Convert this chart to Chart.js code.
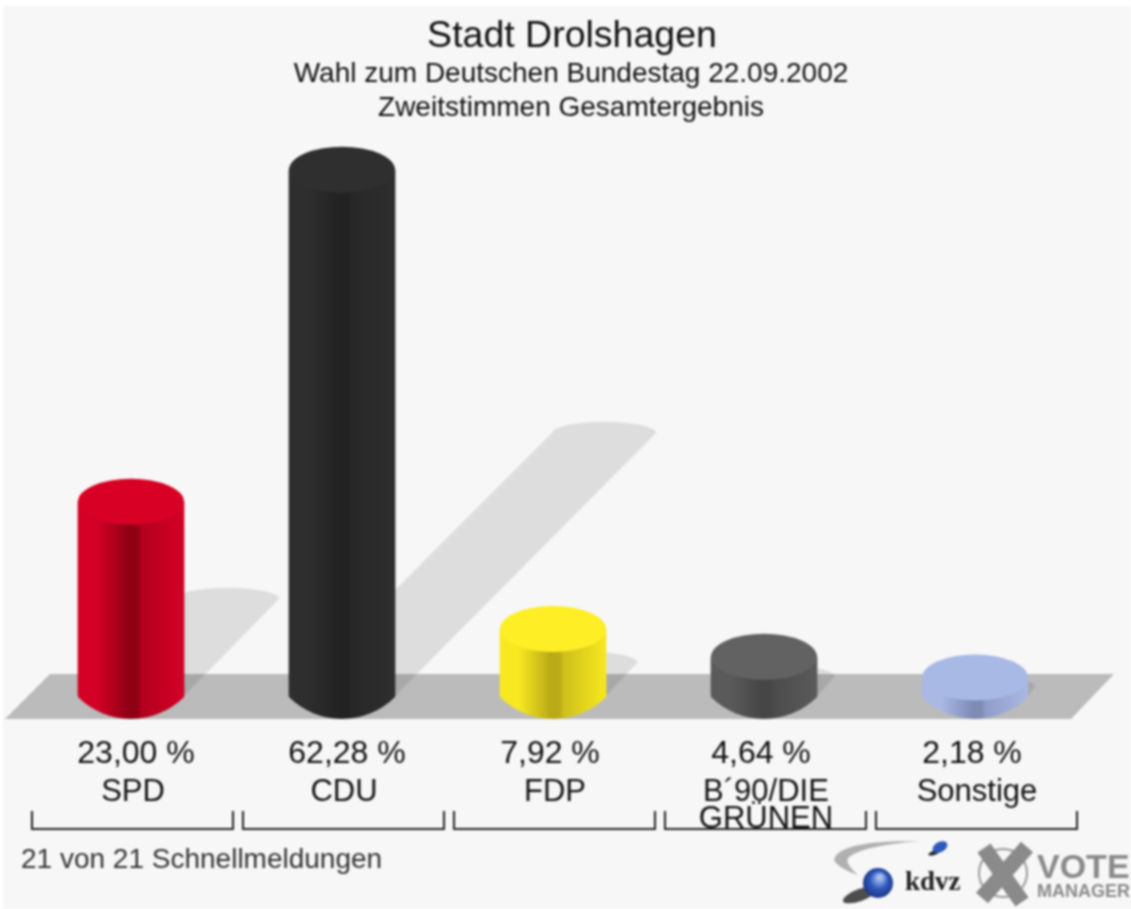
<!DOCTYPE html>
<html>
<head>
<meta charset="utf-8">
<title>Stadt Drolshagen</title>
<script src="https://cdn.jsdelivr.net/npm/chart.js@4"></script>
<style>
    html, body { margin: 0; padding: 0; background: #fff; }
    #wrap { width: 1131px; height: 909px; }
    canvas { display: block; filter: blur(0.8px); }
</style>
</head>
<body>
<div id="wrap"><canvas id="myChart" width="1131" height="909"></canvas></div>
<script>
const parties = [['SPD'], ['CDU'], ['FDP'], ['B´90/DIE', 'GRÜNEN'], ['Sonstige']];
const percent = [23.00, 62.28, 7.92, 4.64, 2.18];
const percentLabels = ['23,00 %', '62,28 %', '7,92 %', '4,64 %', '2,18 %'];

const titleText = 'Stadt Drolshagen';
const subtitleLines = ['Wahl zum Deutschen Bundestag 22.09.2002', 'Zweitstimmen Gesamtergebnis'];
const footerText = '21 von 21 Schnellmeldungen';

// edge, dark middle, just right of the middle, cap
const barColors = [
    ['#d40026', '#8e0014', '#b3001e', '#d80025'],
    ['#2e2e2e', '#222222', '#272727', '#2f2f2f'],
    ['#f7e820', '#b9aa17', '#cfc01c', '#fdee26'],
    ['#5a5a5a', '#464646', '#4c4c4c', '#626262'],
    ['#aab9e4', '#7d8bb5', '#8f9dc8', '#a9b9e5']
];

const FONT = '"Liberation Sans", Arial, sans-serif';
const RX = 53;
const RY = 23;
const RIM_R = 74.8;

function barGradient(context) {
    const chart = context.chart;
    const scale = chart.scales.x;
    if (!scale || context.dataIndex === undefined) return 'transparent';
    const cx = scale.getPixelForValue(context.dataIndex);
    if (!isFinite(cx)) return 'transparent';
    return bodyGradient(chart.ctx, cx, barColors[context.dataIndex]);
}

function bodyGradient(ctx, cx, c) {
    const g = ctx.createLinearGradient(cx - RX, 0, cx + RX, 0);
    g.addColorStop(0, c[0]);
    g.addColorStop(0.18, c[0]);
    g.addColorStop(0.48, c[1]);
    g.addColorStop(0.56, c[1]);
    g.addColorStop(0.6, c[2]);
    g.addColorStop(1, c[0]);
    return g;
}

const cylinderPlugin = {
    id: 'cylinders',
    beforeDatasetsDraw(chart) {
        const ctx = chart.ctx;
        const base = chart.scales.y.getPixelForValue(0);
        const meta = chart.getDatasetMeta(0);

        // floor
        ctx.fillStyle = '#bbbbbb';
        ctx.beginPath();
        ctx.moveTo(5, base + RY);
        ctx.lineTo(50, base - 22);
        ctx.lineTo(1114, base - 22);
        ctx.lineTo(1071, base + RY);
        ctx.closePath();
        ctx.fill();

        // shadows fall up and to the right, half as long as the bar
        meta.data.forEach(bar => {
            const h = (base - bar.y) / 2;
            ctx.fillStyle = 'rgba(0,0,0,0.1)';
            ctx.beginPath();
            ctx.ellipse(bar.x + h - 1, base - h, RX - 1, 11, 0, Math.PI, 0);
            ctx.lineTo(bar.x + RX, base);
            ctx.lineTo(bar.x - RX, base);
            ctx.closePath();
            ctx.fill();
        });

        // lower rim of each cylinder, a flat arc and not a full half ellipse
        // starts 2px up so no seam shows under the bar
        meta.data.forEach((bar, i) => {
            const a = Math.asin(RX / RIM_R);
            ctx.fillStyle = bodyGradient(ctx, bar.x, barColors[i]);
            ctx.beginPath();
            ctx.arc(bar.x, base + RY - RIM_R, RIM_R, Math.PI / 2 + a, Math.PI / 2 - a, true);
            ctx.lineTo(bar.x + RX, base - 2);
            ctx.lineTo(bar.x - RX, base - 2);
            ctx.closePath();
            ctx.fill();
        });
    },
    afterDatasetsDraw(chart) {
        const ctx = chart.ctx;
        chart.getDatasetMeta(0).data.forEach((bar, i) => {
            ctx.fillStyle = barColors[i][3];
            ctx.beginPath();
            ctx.ellipse(bar.x, bar.y, RX, RY, 0, 0, Math.PI * 2);
            ctx.fill();
        });
    }
};

const textPlugin = {
    id: 'texts',
    beforeDraw(chart) {
        const ctx = chart.ctx;
        ctx.fillStyle = '#f7f7f7';
        ctx.fillRect(3, 6, 1128, 903);
    },
    afterDraw(chart) {
        const ctx = chart.ctx;
        const x = chart.scales.x;
        ctx.save();
        ctx.fillStyle = '#111';
        ctx.textBaseline = 'middle';
        ctx.textAlign = 'center';

        ctx.font = '37.5px ' + FONT;
        ctx.fillText(titleText, 572, 37);
        ctx.font = '28px ' + FONT;
        ctx.fillText(subtitleLines[0], 571, 74);
        ctx.fillText(subtitleLines[1], 571, 108);

        // two digit values sit a bit right of the bar, one digit values a bit left
        ctx.font = '32px ' + FONT;
        percentLabels.forEach((label, i) => {
            const nudge = percent[i] >= 10 ? 5 : -3;
            ctx.fillText(label, x.getPixelForValue(i) + nudge, 754);
        });

        // brackets under the categories
        ctx.strokeStyle = '#222';
        ctx.lineWidth = 2;
        percent.forEach((v, i) => {
            const cx = x.getPixelForValue(i);
            ctx.beginPath();
            ctx.moveTo(cx - 99, 811);
            ctx.lineTo(cx - 99, 829);
            ctx.lineTo(cx + 102, 829);
            ctx.lineTo(cx + 102, 811);
            ctx.stroke();
        });

        ctx.textAlign = 'left';
        ctx.font = '28px ' + FONT;
        ctx.fillStyle = '#333';
        ctx.fillText(footerText, 21, 860);
        ctx.restore();

        drawLogos(ctx);
    }
};

function drawLogos(ctx) {
    ctx.save();

    // kdvz swoosh and spheres
    ctx.fillStyle = '#b0b0b0';
    ctx.beginPath();
    ctx.moveTo(920, 841);
    ctx.quadraticCurveTo(838, 840, 834, 860);
    ctx.quadraticCurveTo(838, 868, 858, 875);
    ctx.quadraticCurveTo(845, 864, 848, 858);
    ctx.quadraticCurveTo(860, 846, 920, 841);
    ctx.fill();

    ctx.fillStyle = 'rgba(20,20,20,0.75)';
    ctx.beginPath();
    ctx.ellipse(860, 895, 18, 6, -0.35, 0, Math.PI * 2);
    ctx.fill();
    let g = ctx.createRadialGradient(880, 877, 2, 878, 883, 16);
    g.addColorStop(0, '#a9c0f2');
    g.addColorStop(0.5, '#2f58bd');
    g.addColorStop(1, '#1c337f');
    ctx.fillStyle = g;
    ctx.beginPath();
    ctx.arc(878, 883, 15, 0, Math.PI * 2);
    ctx.fill();

    ctx.fillStyle = '#222';
    ctx.beginPath();
    ctx.ellipse(934, 853, 6, 2, -0.3, 0, Math.PI * 2);
    ctx.fill();
    ctx.fillStyle = '#2f58bd';
    ctx.beginPath();
    ctx.ellipse(940, 847, 8, 5, -0.5, 0, Math.PI * 2);
    ctx.fill();

    ctx.fillStyle = '#222';
    ctx.textAlign = 'left';
    ctx.textBaseline = 'alphabetic';
    ctx.font = 'bold 27px "Liberation Serif", serif';
    ctx.fillText('kdvz', 905, 890);

    // X mark
    ctx.strokeStyle = '#9a9a9a';
    ctx.lineWidth = 2;
    ctx.beginPath();
    ctx.arc(1003, 873, 24, 0, Math.PI * 2);
    ctx.stroke();
    ctx.strokeStyle = '#8a8a8a';
    ctx.lineWidth = 16;
    ctx.beginPath();
    ctx.moveTo(984, 848);
    ctx.lineTo(1022, 902);
    ctx.moveTo(1027, 847);
    ctx.lineTo(982, 898);
    ctx.stroke();

    ctx.fillStyle = '#8a8a8a';
    ctx.font = 'bold 34px ' + FONT;
    ctx.fillText('VOTE', 1037, 878);
    ctx.font = 'bold 18px ' + FONT;
    ctx.fillText('MANAGER', 1037, 897);
    ctx.restore();
}

const ctx = document.getElementById('myChart').getContext('2d');

new Chart(ctx, {
    type: 'bar',
    data: {
        labels: parties,
        datasets: [{
            data: percent,
            backgroundColor: barGradient,
            borderWidth: 0,
            barThickness: 106
        }]
    },
    options: {
        responsive: false,
        animation: false,
        layout: { padding: { left: 25.5, right: 50.5, top: 104.5, bottom: 0 } },
        plugins: {
            legend: { display: false },
            title: { display: false },
            tooltip: { enabled: false }
        },
        scales: {
            x: {
                grid: { display: false },
                border: { display: false },
                ticks: {
                    color: '#111',
                    padding: 75,
                    labelOffset: 2,
                    maxRotation: 0,
                    autoSkip: false,
                    font: { family: FONT, size: 31, lineHeight: 0.87 }
                },
                afterFit(scale) { scale.height = 213; }
            },
            y: {
                display: false,
                min: 0,
                max: 70
            }
        }
    },
    plugins: [cylinderPlugin, textPlugin]
});
</script>
</body>
</html>
